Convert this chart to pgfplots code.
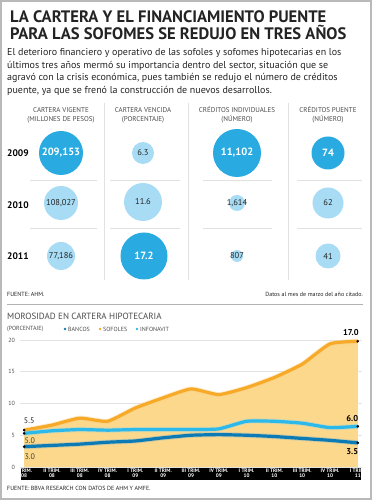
\documentclass[border=0pt]{standalone}
\usepackage{pgfplots}
\usepackage{pgfplotstable}
\pgfplotsset{compat=1.18}
\usepackage{fontspec}
\setmainfont{PT Sans}
\definecolor{darkbub}{RGB}{41,171,226}
\definecolor{lightbub}{RGB}{168,220,245}
\definecolor{sofo}{RGB}{247,170,40}
\definecolor{sofofill}{RGB}{252,216,140}
\definecolor{infon}{RGB}{43,184,234}
\definecolor{banc}{RGB}{12,122,180}
\definecolor{txtgray}{RGB}{75,75,75}
\definecolor{titc}{RGB}{35,35,35}
\definecolor{sepc}{RGB}{225,225,225}

\pgfdeclareplotmark{fcirc}{\pgfpathcircle{\pgfpoint{0pt}{0pt}}{\pgfplotmarksize}\pgfusepathqfill}

\pgfplotstableread{
q bancos sofoles infonavit
0 3.2 5.8 5.3
1 3.4 6.6 5.7
2 3.6 7.7 5.9
3 3.9 7.2 5.8
4 4.1 9.3 5.9
5 4.6 10.9 5.9
6 5.0 12.3 5.9
7 5.1 11.4 6.0
8 5.0 12.5 7.2
9 4.8 14.1 7.2
10 4.5 16.2 6.9
11 4.2 19.4 6.2
12 3.8 19.8 6.4
}\moro

\pgfplotsset{
  darkb/.style={darkbub, only marks, mark=fcirc, mark size=#1, mark options={fill=darkbub},
    nodes near coords align={center},
    every node near coord/.append style={anchor=center, inner sep=0, text=white, font=\fontsize{10.5}{11}\selectfont\bfseries}},
  lightb/.style={lightbub, only marks, mark=fcirc, mark size=#1, mark options={fill=lightbub},
    nodes near coords align={center},
    every node near coord/.append style={anchor=center, inner sep=0, text=titc, font=\fontsize{8.5}{9}\selectfont}},
}

\begin{document}
\begin{tikzpicture}[x=1pt,y=1pt]
\useasboundingbox (0,0) rectangle (372,500);
\draw[gray!55, line width=1.2pt] (1,1) rectangle (371,499);
% title
\begin{scope}[every node/.style={anchor=base west, inner sep=0, text=titc, font=\fontsize{16.6}{17}\selectfont\bfseries}]
\node[text height=12pt, text depth=0pt] at (10,477) {LA CARTERA Y EL FINANCIAMIENTO PUENTE};
\node[text height=15pt, text depth=0pt] at (10,460.5) {PARA LAS SOFOMES SE REDUJO EN TRES AÑOS};
\end{scope}
% body
\begin{scope}[every node/.style={anchor=base west, inner sep=0, text=titc, font=\fontsize{10}{12}\selectfont}]
\node at (7,444.5) {El deterioro financiero y operativo de las sofoles y sofomes hipotecarias en los};
\node at (7,431.8) {últimos tres años mermó su importancia dentro del sector, situación que se};
\node at (7,419) {agravó con la crisis económica, pues también se redujo el número de créditos};
\node at (7,406.2) {puente, ya que se frenó la construcción de nuevos desarrollos.};
\end{scope}
% headers
\begin{scope}[every node/.style={inner sep=0, text=txtgray, font=\fontsize{7}{8}\selectfont}]
\node at (61,390) {CARTERA VIGENTE};
\node at (61,380.5) {(MILLONES DE PESOS)};
\node at (143,390) {CARTERA VENCIDA};
\node at (143,380.5) {(PORCENTAJE)};
\node at (237,390) {CRÉDITOS INDIVIDUALES};
\node at (237,380.5) {(NÚMERO)};
\node at (328,390) {CRÉDITOS PUENTE};
\node at (328,380.5) {(NÚMERO)};
\end{scope}
% separators
\draw[sepc, line width=0.6pt] (104,397) -- (104,220) (188,397) -- (188,220) (288,397) -- (288,220);
\foreach \yy in {320,272} {
  \draw[sepc, line width=0.6pt] (30,\yy) -- (97,\yy) (110,\yy) -- (180,\yy) (203,\yy) -- (272,\yy) (297,\yy) -- (362,\yy);
}
% years
\begin{scope}[every node/.style={anchor=west, inner sep=0, text=black, font=\fontsize{9.5}{10}\selectfont\bfseries}]
\node at (7,347) {2009};
\node at (7,295) {2010};
\node at (7,244) {2011};
\end{scope}
% bubbles
\begin{axis}[at={(0pt,0pt)}, anchor=origin, scale only axis, width=372pt, height=500pt,
  xmin=0, xmax=372, ymin=0, ymax=500, hide axis, clip=false]
% cartera vigente (millones de pesos)
\addplot[darkb=22, nodes near coords={209,153}] coordinates {(61,347)};
\addplot[lightb=17, nodes near coords={108,027}] coordinates {(61,297)};
\addplot[lightb=14, nodes near coords={77,186}] coordinates {(61,244)};
% cartera vencida (porcentaje)
\addplot[lightb=11, nodes near coords={6.3}] coordinates {(143,347)};
\addplot[lightb=19, nodes near coords={11.6}] coordinates {(143,298)};
\addplot[darkb=23.5, nodes near coords={17.2}] coordinates {(144,244)};
% creditos individuales
\addplot[darkb=24, nodes near coords={11,102}] coordinates {(237,347)};
\addplot[lightb=8, nodes near coords={1,614}] coordinates {(237,297)};
\addplot[lightb=6, nodes near coords={807}] coordinates {(237,244)};
% creditos puente
\addplot[darkb=16.5, nodes near coords={74}] coordinates {(328,347)};
\addplot[lightb=15.5, nodes near coords={62}] coordinates {(328,297)};
\addplot[lightb=12.5, nodes near coords={41}] coordinates {(328,244)};
\end{axis}
% sources
\node[anchor=west, inner sep=0, text=titc, font=\fontsize{6}{7}\selectfont] at (7,206) {FUENTE: AHM.};
\node[anchor=east, inner sep=0, text=titc, font=\fontsize{6}{7}\selectfont] at (363,206) {Datos al mes de marzo del año citado.};
\draw[gray!60, line width=0.7pt] (7,196) -- (363,196);
\node[anchor=west, inner sep=0, text=txtgray, font=\fontsize{9}{10}\selectfont] at (7,184) {MOROSIDAD EN CARTERA HIPOTECARIA};
\node[anchor=west, inner sep=0, text=txtgray, font=\fontsize{6}{7}\selectfont] at (7,171) {(PORCENTAJE)};
\fill[banc] (65,171) circle (1.4);
\node[anchor=west, inner sep=0, text=txtgray, font=\fontsize{6}{7}\selectfont] at (68,171) {BANCOS};
\fill[sofo] (100,171) circle (1.4);
\node[anchor=west, inner sep=0, text=txtgray, font=\fontsize{6}{7}\selectfont] at (103,171) {SOFOLES};
\fill[infon] (137,171) circle (1.4);
\node[anchor=west, inner sep=0, text=txtgray, font=\fontsize{6}{7}\selectfont] at (140,171) {INFONAVIT};
\node[anchor=west, inner sep=0, text=titc, font=\fontsize{6}{7}\selectfont] at (7,12) {FUENTE: BBVA RESEARCH CON DATOS DE AHM Y AMFE.};
% black band
\fill[black] (21,19.5) rectangle (361,33);
% line chart
\begin{axis}[at={(20pt,33pt)}, anchor=south west, scale only axis, width=342pt, height=127pt,
  xmin=-0.15, xmax=12.15, ymin=0, ymax=20, clip=false,
  axis line style={draw=none}, major tick length=0pt,
  ytick={0,5,10,15,20}, ymajorgrids, grid style={gray!22, line width=0.6pt},
  /pgf/number format/assume math mode=true,
  yticklabel style={overlay, text=txtgray, font=\fontsize{6}{7}\selectfont, inner sep=1pt, xshift=-4pt},
  xtick={0,...,12},
  xticklabels={{I TRIM.\\08},{II TRIM.\\08},{III TRIM.\\08},{IV TRIM.\\08},{I TRIM.\\09},{II TRIM.\\09},{III TRIM.\\09},{IV TRIM.\\09},{I TRIM.\\10},{II TRIM.\\10},{III TRIM.\\10},{IV TRIM.\\10},{I TRIM.\\11}},
  xticklabel style={overlay, text=white, align=center, inner sep=0pt, yshift=-1.3pt, font=\fontsize{5.2}{5.6}\selectfont\bfseries}]
\addplot[draw=none, fill=sofofill, smooth, tension=0.3] table[x=q, y=sofoles] {\moro} \closedcycle;
\addplot[sofo!60, line width=5pt, opacity=0.35, smooth, tension=0.3] table[x=q, y=sofoles] {\moro};
\addplot[sofo, line width=3.2pt, smooth, tension=0.3] table[x=q, y=sofoles] {\moro};
\addplot[infon!60, line width=5pt, opacity=0.35, smooth, tension=0.3] table[x=q, y=infonavit] {\moro};
\addplot[infon, line width=3.2pt, smooth, tension=0.3] table[x=q, y=infonavit] {\moro};
\addplot[banc!60, line width=5pt, opacity=0.35, smooth, tension=0.3] table[x=q, y=bancos] {\moro};
\addplot[banc, line width=3.2pt, smooth, tension=0.3] table[x=q, y=bancos] {\moro};
\addplot[only marks, mark=*, mark size=1.1pt, black] coordinates {(0,5.8) (0,5.3) (0,3.2) (12,19.8) (12,6.4) (12,3.8)};
\node[overlay, text=titc, font=\fontsize{8}{9}\selectfont, inner sep=0] at (axis cs:0.18,7.3) {5.5};
\node[overlay, text=titc, font=\fontsize{8}{9}\selectfont, inner sep=0, opacity=0.85] at (axis cs:0.2,4.2) {5.0};
\node[overlay, text=titc, font=\fontsize{8}{9}\selectfont, inner sep=0, opacity=0.85] at (axis cs:0.2,1.7) {3.0};
\node[overlay, text=black, font=\fontsize{8.5}{9}\selectfont\bfseries, inner sep=0] at (axis cs:11.75,21.2) {17.0};
\node[overlay, text=black, font=\fontsize{8.5}{9}\selectfont\bfseries, inner sep=0] at (axis cs:11.8,7.6) {6.0};
\node[overlay, text=black, font=\fontsize{8.5}{9}\selectfont\bfseries, inner sep=0] at (axis cs:11.8,2.4) {3.5};
\end{axis}
\end{tikzpicture}
\end{document}
